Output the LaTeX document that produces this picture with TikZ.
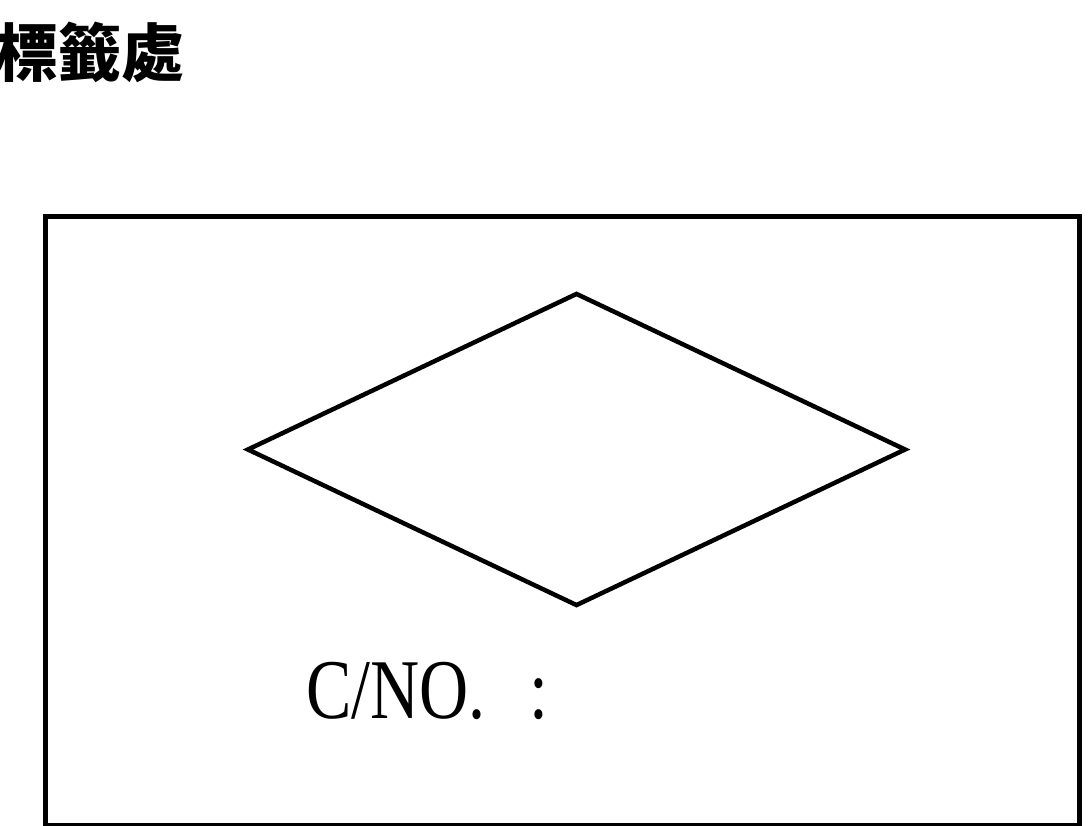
\documentclass[tikz,border=0pt]{standalone}
\usepackage{fontspec}
\usetikzlibrary{shapes.geometric}
\setmainfont{Liberation Serif}
\newfontfamily\cjkbold{Noto Sans CJK TC Black}
\newfontfamily\narrowserif{Liberation Serif}[FakeStretch=0.8]
\tikzset{
  frame/.style={draw=black, line width=4.5pt},
  lbl/.style={inner sep=0pt, outer sep=0pt}
}
\begin{document}
\begin{tikzpicture}[x=1pt,y=1pt]
\useasboundingbox (0,0) rectangle (1089,-825);
\node[lbl, anchor=east] (title) at (184,-52) {\fontsize{63}{63}\selectfont\cjkbold 標籤處};
\node[frame, rectangle, minimum width=1034pt, minimum height=609pt, inner sep=0pt, anchor=north west] (box) at (43,-214) {};
\node[frame, diamond, minimum width=659pt, minimum height=313pt, inner sep=0pt] (dia) at (576.5,-449.5) {};
\node[lbl, anchor=base west] (cno) at (306,-718) {\fontsize{85}{85}\selectfont\narrowserif C/NO.\hspace{44pt}:};
\end{tikzpicture}
\end{document}
